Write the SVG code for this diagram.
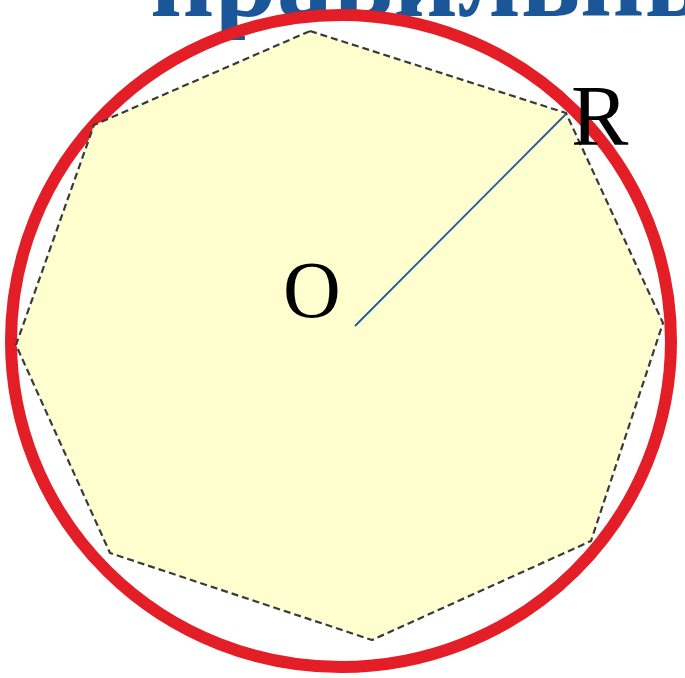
<svg xmlns="http://www.w3.org/2000/svg" width="685" height="678" viewBox="0 0 685 678">
  <style>
    .title { font-family: "Liberation Serif", "DejaVu Serif", serif; font-weight: bold; font-size: 112px; fill: #1b5699; }
    .lbl { font-family: "Liberation Serif", "DejaVu Serif", serif; fill: #000; }
  </style>
  <rect width="685" height="678" fill="#ffffff"/>
  <text class="title" x="150" y="16">правильные</text>
  <g id="circle">
    <ellipse cx="341" cy="341" rx="330" ry="326" fill="none" stroke="#e31e26" stroke-width="12"/>
  </g>
  <g id="octagon">
    <polygon points="310,31 566,113 663,323 591,541 372,640 110,553 16,345 94,125" fill="#fefecf" stroke="#3a3a3a" stroke-width="2.2" stroke-dasharray="7 4" stroke-linejoin="round"/>
  </g>
  <g id="connectors">
    <line x1="355" y1="326" x2="566" y2="114" stroke="#1f5a9a" stroke-width="1.8"/>
  </g>
  <g id="label-O">
    <text class="lbl" x="283" y="317" font-size="80">O</text>
  </g>
  <g id="label-R">
    <text class="lbl" x="571" y="145" font-size="86">R</text>
  </g>
</svg>
